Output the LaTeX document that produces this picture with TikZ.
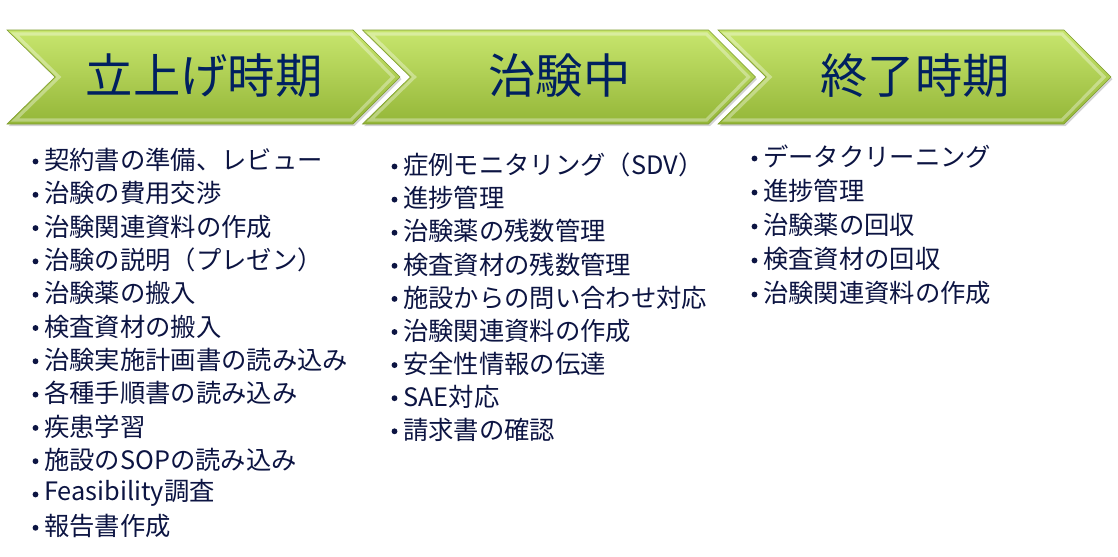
\documentclass[tikz,border=0pt]{standalone}
\usepackage{fontspec}
\setmainfont{Noto Sans CJK JP}
\usetikzlibrary{positioning, shadows, calc}
\definecolor{navy}{RGB}{0,32,96}
\definecolor{ink}{RGB}{12,20,66}
\definecolor{leaf}{RGB}{200,230,110}
\definecolor{moss}{RGB}{148,182,56}
\tikzset{
  chevron/.style={top color=leaf, bottom color=moss, draw=moss!85!black, line width=0.4pt,
                  drop shadow={opacity=0.35, shadow xshift=1.2pt, shadow yshift=-1.6pt}},
  bevel/.style={draw=white, opacity=0.35, line width=2.4pt, line join=miter},
  phase/.style={font=\fontsize{35.5}{40}\selectfont, text=navy, inner sep=0pt},
  task/.style={font=\fontsize{19}{24}\selectfont, text=ink, anchor=west, inner sep=0pt},
  dot/.style={fill=ink},
}
\begin{document}
\begin{tikzpicture}[x=0.75pt, y=-0.75pt]
  \useasboundingbox (0,0) rectangle (1118,557);
  % three phase arrows
  \foreach \n/\name/\lbl in {0/start/立上げ時期, 1/trial/治験中, 2/close/終了時期} {
    \pgfmathsetmacro{\L}{7+355.5*\n}
    \shade[chevron] (\L,30) -- ++(346,0) -- ++(47,47) -- ++(-47,47) -- ++(-346,0)
                    -- ++(48,-47) -- cycle;
    \draw[bevel] (\L+8,34) -- ++(336,0) -- ++(42,43) -- ++(-42,43) -- ++(-336,0)
                 -- ++(44,-43) -- cycle;
    \node[phase] (chev-\name) at (\L+197,76) {\lbl};
  }
  % task lists
  \foreach \t [count=\i] in {契約書の準備、レビュー, 治験の費用交渉, 治験関連資料の作成,
      治験の説明（プレゼン）, 治験薬の搬入, 検査資材の搬入, 治験実施計画書の読み込み,
      各種手順書の読み込み, 疾患学習, 施設のSOPの読み込み, Feasibility調査, 報告書作成} {
    \node[task] (start-\i) at (44,160+33.3*\i-33.3) {\t};
    \fill[dot] ($(start-\i.west)+(-8.5,1.5)$) circle (2.2pt);
  }
  \foreach \t [count=\i] in {症例モニタリング（SDV）, 進捗管理, 治験薬の残数管理,
      検査資材の残数管理, 施設からの問い合わせ対応, 治験関連資料の作成,
      安全性情報の伝達, SAE対応, 請求書の確認} {
    \node[task] (trial-\i) at (403,165+33.1*\i-33.1) {\t};
    \fill[dot] ($(trial-\i.west)+(-8.5,1.5)$) circle (2.2pt);
  }
  \foreach \t [count=\i] in {データクリーニング, 進捗管理, 治験薬の回収, 検査資材の回収,
      治験関連資料の作成} {
    \node[task] (close-\i) at (763,157+34*\i-34) {\t};
    \fill[dot] ($(close-\i.west)+(-8.5,1.5)$) circle (2.2pt);
  }
\end{tikzpicture}
\end{document}
